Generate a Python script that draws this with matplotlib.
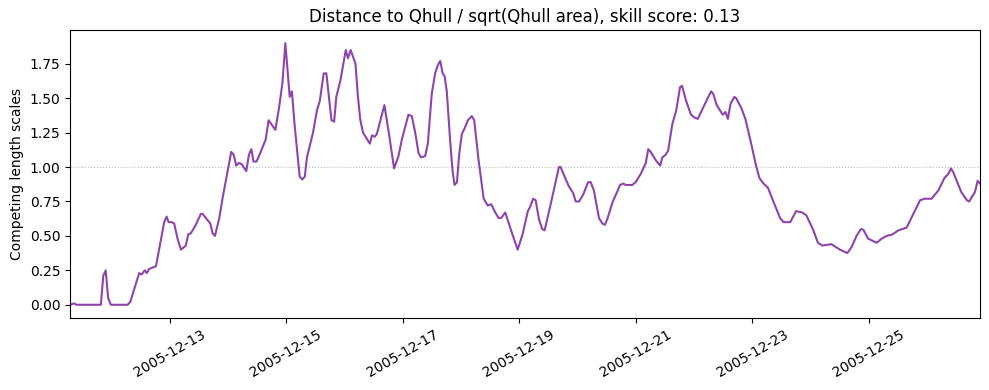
import numpy as np
import pandas as pd
import matplotlib
matplotlib.use('Agg')
import matplotlib.pyplot as plt
import matplotlib.dates as mdates

# hours since 2005-12-11 00:00 and the value
hours = [7.0, 8.7, 9.6, 19.7, 20.7, 21.7, 22.7, 23.8, 30.7, 31.8,
         35.5, 36.5, 37.8, 38.6, 39.6, 42.4, 45.8, 46.8, 47.6, 48.9,
         49.9, 51.3, 52.7, 54.7, 55.7, 56.8, 58.8, 60.9, 61.6, 64.8,
         65.7, 66.7, 68.5, 69.9, 73.4, 74.4, 75.5, 76.6, 77.8, 79.6,
         80.7, 81.7, 82.6, 83.8, 85.1, 87.6, 88.8, 91.6, 93.1, 94.5,
         95.7, 97.5, 98.4, 99.5, 101.6, 102.7, 103.7, 104.6, 107.1, 108.7,
         109.9, 111.5, 112.6, 114.7, 115.8, 116.7, 118.4, 120.6, 121.5, 122.6,
         124.6, 125.6, 126.6, 127.7, 130.5, 131.4, 132.5, 133.4, 136.5, 138.4,
         140.5, 142.3, 143.7, 146.4, 147.8, 149.2, 150.6, 151.6, 153.3, 154.4,
         156.0, 157.4, 158.5, 159.5, 160.5, 161.3, 162.2, 163.6, 164.6, 165.4,
         166.4, 167.3, 168.4, 169.5, 170.9, 172.5, 173.5, 175.3, 177.4, 179.1,
         180.5, 181.9, 183.5, 184.6, 186.3, 188.7, 191.4, 193.4, 195.6, 196.5,
         197.8, 198.8, 200.2, 201.5, 202.5, 205.0, 208.4, 209.1, 210.5, 212.5,
         214.3, 215.3, 216.7, 218.4, 220.4, 221.5, 222.8, 224.9, 226.3, 227.3,
         228.3, 230.4, 231.4, 233.6, 234.9, 235.9, 238.6, 240.0, 242.1, 244.2,
         245.2, 246.2, 248.3, 250.1, 251.0, 252.4, 253.4, 255.1, 256.7, 258.3,
         259.1, 260.8, 262.8, 264.2, 265.6, 268.3, 271.1, 272.0, 273.4, 275.9,
         277.0, 278.0, 279.1, 280.7, 281.4, 283.5, 285.2, 287.6, 289.6, 291.0,
         292.7, 294.5, 297.2, 299.5, 300.9, 303.7, 306.1, 308.6, 310.3, 313.0,
         315.1, 316.9, 320.6, 324.2, 327.2, 329.0, 331.0, 332.8, 333.8, 335.8,
         339.3, 341.3, 343.4, 345.7, 348.2, 351.6, 354.4, 357.2, 359.2, 361.9,
         364.7, 367.2, 368.8, 369.9, 370.9, 374.1, 376.4, 377.4, 379.8, 380.9,
         381.9]

values = [0.00, 0.01, 0.00, 0.00, 0.21, 0.25, 0.05, 0.00, 0.00, 0.02,
          0.23, 0.22, 0.25, 0.23, 0.26, 0.28, 0.60, 0.64, 0.60, 0.60,
          0.59, 0.48, 0.40, 0.43, 0.51, 0.52, 0.58, 0.66, 0.66, 0.59,
          0.52, 0.50, 0.63, 0.78, 1.11, 1.09, 1.01, 1.03, 1.02, 0.97,
          1.09, 1.13, 1.04, 1.04, 1.09, 1.20, 1.34, 1.27, 1.43, 1.61,
          1.90, 1.51, 1.55, 1.31, 0.93, 0.91, 0.93, 1.07, 1.25, 1.41,
          1.48, 1.68, 1.68, 1.34, 1.33, 1.51, 1.63, 1.85, 1.79, 1.85,
          1.75, 1.51, 1.34, 1.25, 1.17, 1.23, 1.22, 1.24, 1.45, 1.24,
          0.99, 1.08, 1.20, 1.38, 1.37, 1.25, 1.10, 1.07, 1.08, 1.17,
          1.53, 1.68, 1.74, 1.77, 1.68, 1.66, 1.55, 1.19, 0.97, 0.87,
          0.89, 1.09, 1.24, 1.28, 1.34, 1.37, 1.34, 1.05, 0.77, 0.72,
          0.73, 0.68, 0.63, 0.63, 0.67, 0.54, 0.40, 0.51, 0.68, 0.71,
          0.77, 0.76, 0.62, 0.55, 0.54, 0.73, 1.00, 1.00, 0.94, 0.86,
          0.81, 0.75, 0.75, 0.80, 0.89, 0.89, 0.83, 0.63, 0.59, 0.58,
          0.62, 0.74, 0.78, 0.87, 0.88, 0.87, 0.87, 0.89, 0.95, 1.03,
          1.13, 1.11, 1.05, 1.01, 1.07, 1.09, 1.12, 1.31, 1.41, 1.58,
          1.59, 1.48, 1.38, 1.36, 1.35, 1.45, 1.55, 1.53, 1.45, 1.38,
          1.40, 1.35, 1.46, 1.51, 1.50, 1.43, 1.35, 1.17, 1.01, 0.92,
          0.88, 0.85, 0.73, 0.63, 0.60, 0.60, 0.68, 0.67, 0.65, 0.55,
          0.45, 0.43, 0.44, 0.40, 0.375, 0.42, 0.50, 0.55, 0.545, 0.48,
          0.45, 0.48, 0.50, 0.51, 0.54, 0.56, 0.66, 0.76, 0.77, 0.77,
          0.83, 0.92, 0.95, 0.99, 0.96, 0.82, 0.76, 0.75, 0.82, 0.90,
          0.88]

title = 'Distance to Qhull / sqrt(Qhull area), skill score: 0.13'

times = pd.Timestamp('2005-12-11') + pd.to_timedelta(hours, unit='h')

fig, ax = plt.subplots(figsize=(9.89, 3.9), dpi=100)
ax.axhline(1.0, color='#bbbbbb', lw=0.8, ls=':', zorder=1)
ax.plot(times, values, color='#8e44ad', lw=1.5, zorder=2)
ax.set_xlim(times[0], times[-1])
ax.xaxis.set_major_locator(mdates.DayLocator(interval=2))
ax.xaxis.set_major_formatter(mdates.DateFormatter('%Y-%m-%d'))
plt.setp(ax.get_xticklabels(), rotation=30)
ax.set_ylabel('Competing length scales')
ax.set_title(title)
fig.subplots_adjust(left=0.0708, right=0.991, top=0.923, bottom=0.185)
fig.savefig('out.png', dpi=100)
